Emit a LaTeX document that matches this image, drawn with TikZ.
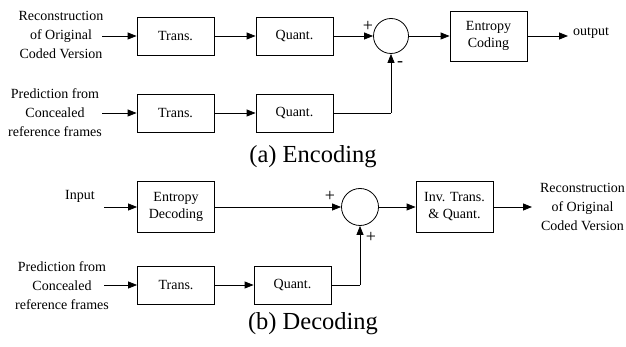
\documentclass[tikz,border=0pt]{standalone}
\usepackage{fontspec}
\setmainfont{Liberation Serif}
\usetikzlibrary{arrows.meta}
\begin{document}
\begin{tikzpicture}[x=1pt,y=-1pt,
  box/.style={draw,line width=0.8pt,minimum width=77pt,minimum height=38pt,inner sep=0pt,align=center,font=\fontsize{14}{17}\selectfont},
  lbl/.style={align=center,inner sep=0pt,font=\fontsize{14}{19}\selectfont},
  sumc/.style={draw,line width=0.8pt,circle,minimum size=35pt,inner sep=0pt},
  sgn/.style={inner sep=0pt,font=\fontsize{18}{18}\selectfont},
  captxt/.style={inner sep=0pt,font=\fontsize{24.5}{24.5}\selectfont},
  conn/.style={line width=0.8pt,-{Triangle[length=9pt,width=7pt]}},
  ln/.style={line width=0.8pt}]
\useasboundingbox (0,0) rectangle (626,347);
% Encoding
\node[lbl] (rin) at (61,35) {Reconstruction\\of Original\\Coded Version};
\node[box] (t1) at (175.5,36) {Trans.};
\node[box] (q1) at (294.5,36) {Quant.};
\node[sumc] (s1) at (391,36) {};
\node[box,minimum height=50pt] (ec) at (488.5,36) {Entropy\\Coding};
\node[lbl,anchor=west] (out) at (573,33) {output};
\node[lbl] (pin1) at (55,113) {Prediction from\\Concealed\\reference frames};
\node[box] (t2) at (175.5,113) {Trans.};
\node[box] (q2) at (294.5,113) {Quant.};
\coordinate (c1) at (391,113);
\node[sgn] (p1) at (368,26) {+};
\node[sgn] (m1) at (400,64) {-};
\node[captxt] (capa) at (313,157) {(a) Encoding};
\draw[conn] (102,36) -- (t1.west);
\draw[conn] (t1) -- (q1);
\draw[conn] (q1) -- (s1);
\draw[conn] (s1) -- (ec);
\draw[conn] (ec.east) -- (568,36);
\draw[conn] (102,113) -- (t2.west);
\draw[conn] (t2) -- (q2);
\draw[ln] (q2.east) -- (c1);
\draw[conn] (c1) -- (s1.south);
% Decoding
\node[lbl] (inp) at (80,196) {Input};
\node[box,minimum height=51pt] (ed) at (176,207) {Entropy\\Decoding};
\node[sumc,minimum size=37pt] (s2) at (360,207) {};
\node[box,minimum height=51pt] (iq) at (454.5,207) {Inv. Trans.\\\& Quant.};
\node[lbl] (rout) at (582.5,207) {Reconstruction\\of Original\\Coded Version};
\node[lbl] (pin2) at (62,286) {Prediction from\\Concealed\\reference frames};
\node[box] (t3) at (176,285) {Trans.};
\node[box] (q3) at (292.5,285) {Quant.};
\coordinate (c2) at (360,285);
\node[sgn] (p2) at (330,196) {+};
\node[sgn] (p3) at (371,237) {+};
\node[captxt] (capb) at (313,324) {(b) Decoding};
\draw[conn] (104,207) -- (ed.west);
\draw[conn] (ed) -- (s2);
\draw[conn] (s2) -- (iq);
\draw[conn] (iq.east) -- (532,207);
\draw[conn] (104,285) -- (t3.west);
\draw[conn] (t3) -- (q3);
\draw[ln] (q3.east) -- (c2);
\draw[conn] (c2) -- (s2.south);
\end{tikzpicture}
\end{document}
